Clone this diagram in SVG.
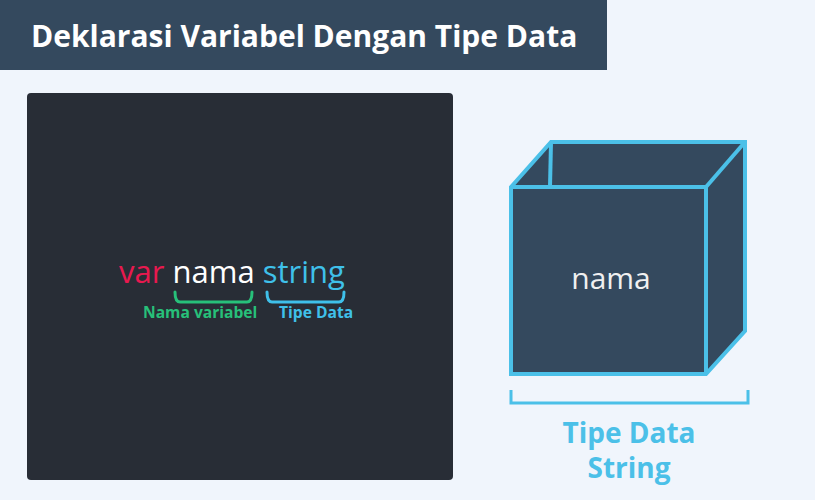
<svg xmlns="http://www.w3.org/2000/svg" width="815" height="500" viewBox="0 0 815 500">
<style>
text{font-family:"Open Sans","Noto Sans",sans-serif}
.title{font-size:30px;font-weight:bold;fill:#ffffff}
.code{font-size:31px}
.lbl{font-size:15.6px;font-weight:bold}
.cube{fill:#34495e;stroke:#4bc0e8;stroke-width:4;stroke-linejoin:miter}
.brace{fill:none;stroke-width:3;stroke-linecap:round;stroke-linejoin:round}
.big{font-size:28px;font-weight:bold;fill:#4bc0e8}
</style>
<rect x="0" y="0" width="815" height="500" fill="#f0f5fc"/>
<g id="title">
<rect x="0" y="0" width="607" height="70" fill="#34495e"/>
<text class="title" x="31" y="47">Deklarasi Variabel Dengan Tipe Data</text>
</g>
<g id="code-panel">
<rect x="27" y="93" width="426" height="387" rx="4" fill="#282d36"/>
<text class="code" x="119" y="283"><tspan fill="#e8194f">var</tspan><tspan fill="#ffffff"> nama</tspan><tspan fill="#3fc0ea"> string</tspan></text>
<path class="brace" stroke="#27c07a" d="M175,292 Q175,302 180,302 L247,302 Q252,302 252,292"/>
<path class="brace" stroke="#3fc0ea" d="M267,292 Q267,302 272,302 L339,302 Q344,302 344,292"/>
<text class="lbl" x="143" y="318" fill="#27c07a">Nama variabel</text>
<text class="lbl" x="279" y="318" fill="#3fc0ea">Tipe Data</text>
</g>
<g id="cube">
<polygon class="cube" points="511,187 551,142 745,142 745,331 706,374 511,374"/>
<polyline class="cube" fill="none" points="706,374 706,187 511,187"/>
<line x1="706" y1="187" x2="745" y2="142" stroke="#4bc0e8" stroke-width="4"/>
<line x1="551" y1="142" x2="550" y2="187" stroke="#4bc0e8" stroke-width="4"/>
<text x="611" y="289" font-size="30" fill="#f0f0f0" text-anchor="middle">nama</text>
</g>
<g id="type-label">
<polyline fill="none" stroke="#4bc0e8" stroke-width="3" points="511,390 511,403 748,403 748,390"/>
<text class="big" x="629" y="443" text-anchor="middle">Tipe Data</text>
<text class="big" x="629" y="478" text-anchor="middle">String</text>
</g>
</svg>
